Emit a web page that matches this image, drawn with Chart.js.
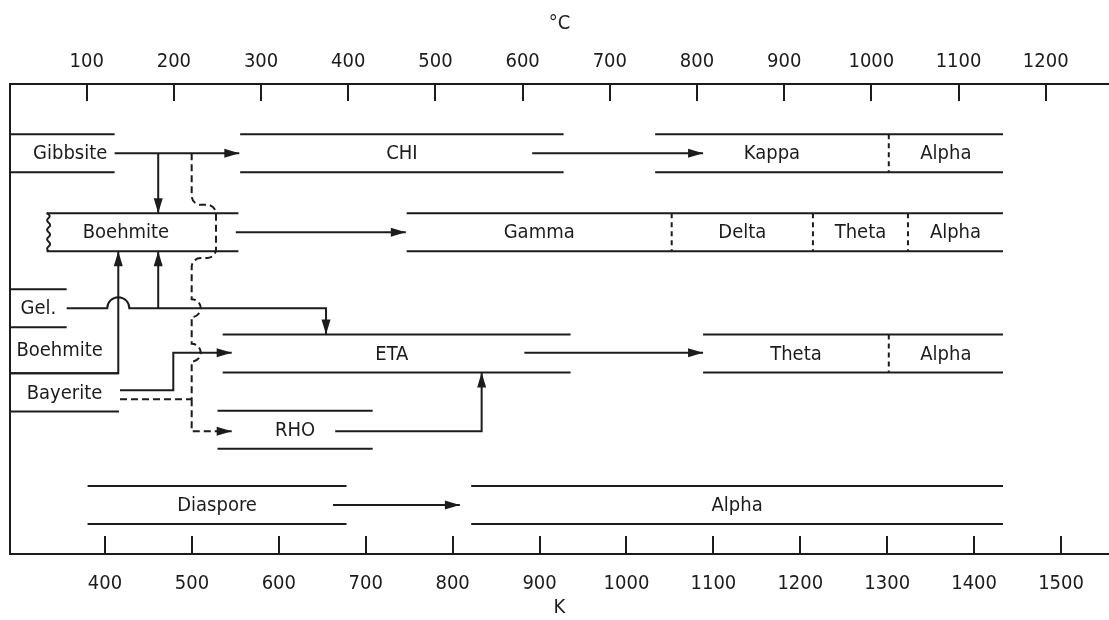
<!DOCTYPE html>
<html>
<head>
<meta charset="utf-8">
<script src="https://cdn.jsdelivr.net/npm/chart.js@4.4.1/dist/chart.umd.min.js"></script>
<style>
  html, body { margin: 0; padding: 0; background: #fff; }
  #wrap { width: 1109px; height: 620px; }
</style>
</head>
<body>
<div id="wrap"><canvas id="chart"></canvas></div>
<script>
// Tick labels of the two temperature axes
const celsiusTicks = [100, 200, 300, 400, 500, 600, 700, 800, 900, 1000, 1100, 1200];
const kelvinTicks = [400, 500, 600, 700, 800, 900, 1000, 1100, 1200, 1300, 1400, 1500];

// Phase bands: names, top / bottom of the band (row units), start / end in degrees C
const bandNames   = [['Gibbsite'], ['CHI'], ['Kappa', 'Alpha'], ['Boehmite'], ['Gamma', 'Delta', 'Theta', 'Alpha'],
                     ['Gel.'], ['Boehmite'], ['Bayerite'], ['ETA'], ['Theta', 'Alpha'], ['RHO'], ['Diaspore'], ['Alpha']];
const bandTop     = [1.32, 1.32, 1.32, 3.4, 3.4, 5.4, 6.4, 7.61, 6.59, 6.59, 8.6, 10.58, 10.58];
const bandBottom  = [2.32, 2.32, 2.32, 4.4, 4.4, 6.4, 7.61, 8.62, 7.59, 7.59, 9.6, 11.58, 11.58];
const bandStart   = [12, 276, 752, 54, 467, 12, 12, 12, 256, 807, 250, 101, 541];
const bandEnd     = [132, 647, 1151, 274, 1151, 77, 77, 137, 655, 1151, 428, 398, 1151];
const bandSplits  = [[], [], [1020], [], [771, 933, 1042], [], [], [], [], [1020], [], [], []];
const bandLabelAt = [81, null, null, 145, null, null, 69, null, 450, null, null, null, null];
const wavyBands   = [3]; // band drawn with a broken (wavy) left end

// Transformation arrows: polylines in (degrees C, row), arrow head at the last point
const arrowPaths = [
  [[132, 1.82], [275, 1.82]],                                   // Gibbsite -> CHI
  [[182, 1.82], [182, 3.4]],                                    // Gibbsite -> Boehmite
  [[611, 1.82], [807, 1.82]],                                   // CHI -> Kappa
  [[271, 3.9], [466, 3.9]],                                     // Boehmite -> Gamma
  [[77, 5.9], [374.5, 5.9], [374.5, 6.59]],                     // Gel -> ETA
  [[182, 5.9], [182, 4.4]],                                     // Gel -> Boehmite
  [[12, 7.61], [136.2, 7.61], [136.2, 4.4]],                    // Boehmite -> Boehmite
  [[138.2, 8.06], [199.3, 8.06], [199.3, 7.07], [266.3, 7.07]], // Bayerite -> ETA
  [[602, 7.07], [807, 7.07]],                                   // ETA -> Theta
  [[385, 9.14], [553, 9.14], [553, 7.59]],                      // RHO -> ETA
  [[382.5, 11.08], [528, 11.08]]                                // Diaspore -> Alpha
];
const arrowHops = [[], [], [], [], [136.2], [], [], [], [], [], []];

// Dashed routes (Gibbsite / Bayerite -> RHO)
const dashedPaths = [
  [[220.4, 1.82], [220.4, 3.18], [248.3, 3.18], [248.3, 4.58], [220.4, 4.58], [220.4, 8.3]],
  [[220.4, 8.3], [220.4, 9.14], [266.3, 9.14]],
  [[138.2, 8.3], [220.4, 8.3]]
];
const dashedHops  = [[5.9, 7.07], [], []];
const dashedRound = [true, false, false];
const dashedArrow = [false, true, false];

const ink = '#1c1c1c';
const fontFamily = "'DejaVu Sans Condensed', 'DejaVu Sans', sans-serif";
Chart.defaults.font.family = fontFamily;
Chart.defaults.font.size = 20;
Chart.defaults.color = ink;

// band edges (top and bottom lines) and dashed dividers
const edgePoints = [];
const dividerPoints = [];
bandNames.forEach((names, i) => {
  edgePoints.push({ x: bandStart[i], y: bandTop[i] }, { x: bandEnd[i], y: bandTop[i] }, { x: bandEnd[i], y: null });
  edgePoints.push({ x: bandStart[i], y: bandBottom[i] }, { x: bandEnd[i], y: bandBottom[i] }, { x: bandEnd[i], y: null });
  bandSplits[i].forEach(s => {
    dividerPoints.push({ x: s, y: bandTop[i] }, { x: s, y: bandBottom[i] }, { x: s, y: null });
  });
});

function px(chart, p) {
  return [chart.scales.x.getPixelForValue(p[0]), chart.scales.y.getPixelForValue(p[1])];
}

// draws a polyline with optional rounded corners and hops over crossing lines
function drawPath(ctx, chart, path, hops, round) {
  const pts = path.map(p => px(chart, p));
  const r = 9;
  ctx.beginPath();
  ctx.moveTo(pts[0][0], pts[0][1]);
  for (let i = 0; i < pts.length - 1; i++) {
    const a = pts[i], b = pts[i + 1];
    const horizontal = Math.abs(a[1] - b[1]) < 0.5;
    hops.forEach(h => {
      if (horizontal) {
        const hx = chart.scales.x.getPixelForValue(h);
        if (hx > Math.min(a[0], b[0]) && hx < Math.max(a[0], b[0])) {
          ctx.lineTo(hx - 11, a[1]);
          ctx.arc(hx, a[1], 11, Math.PI, 2 * Math.PI, false);
        }
      } else {
        const hy = chart.scales.y.getPixelForValue(h);
        if (hy > Math.min(a[1], b[1]) && hy < Math.max(a[1], b[1])) {
          ctx.lineTo(a[0], hy - 9);
          ctx.arc(a[0], hy, 9, -Math.PI / 2, Math.PI / 2, false);
        }
      }
    });
    if (round && i + 2 < pts.length) {
      ctx.arcTo(b[0], b[1], pts[i + 2][0], pts[i + 2][1], r);
    } else {
      ctx.lineTo(b[0], b[1]);
    }
  }
  ctx.stroke();
}

function drawHead(ctx, chart, path) {
  const p = px(chart, path[path.length - 1]);
  const q = px(chart, path[path.length - 2]);
  const len = Math.hypot(p[0] - q[0], p[1] - q[1]);
  const dx = (p[0] - q[0]) / len, dy = (p[1] - q[1]) / len;
  const bx = p[0] - dx * 15, by = p[1] - dy * 15;
  ctx.beginPath();
  ctx.moveTo(p[0], p[1]);
  ctx.lineTo(bx - dy * 4.5, by + dx * 4.5);
  ctx.lineTo(bx + dy * 4.5, by - dx * 4.5);
  ctx.closePath();
  ctx.fill();
}

const diagramPlugin = {
  id: 'diagram',
  afterDatasetsDraw(chart) {
    const ctx = chart.ctx;
    const area = chart.chartArea;
    const xs = chart.scales.x, ks = chart.scales.k, ys = chart.scales.y;
    ctx.save();
    ctx.strokeStyle = ink;
    ctx.fillStyle = ink;
    ctx.lineWidth = 2;

    // left frame line and inward tick marks
    ctx.beginPath();
    ctx.moveTo(area.left, area.top - 1);
    ctx.lineTo(area.left, area.bottom + 1);
    celsiusTicks.forEach(v => {
      const x = Math.round(xs.getPixelForValue(v));
      ctx.moveTo(x, area.top);
      ctx.lineTo(x, area.top + 17);
    });
    kelvinTicks.forEach(v => {
      const x = Math.round(ks.getPixelForValue(v));
      ctx.moveTo(x, area.bottom);
      ctx.lineTo(x, area.bottom - 18);
    });
    ctx.stroke();

    // wavy broken end
    wavyBands.forEach(i => {
      const x0 = xs.getPixelForValue(bandStart[i]);
      const y0 = ys.getPixelForValue(bandTop[i]);
      const y1 = ys.getPixelForValue(bandBottom[i]);
      const n = 8, step = (y1 - y0) / n;
      ctx.beginPath();
      ctx.moveTo(x0, y0);
      for (let k = 0; k < n; k++) {
        const cx = x0 + (k % 2 === 0 ? 5 : -1);
        ctx.quadraticCurveTo(cx, y0 + step * (k + 0.5), x0 + 2, y0 + step * (k + 1));
      }
      ctx.stroke();
    });

    // solid arrows
    arrowPaths.forEach((path, i) => {
      drawPath(ctx, chart, path, arrowHops[i], false);
      drawHead(ctx, chart, path);
    });

    // dashed routes
    dashedPaths.forEach((path, i) => {
      ctx.setLineDash([7, 4]);
      drawPath(ctx, chart, path, dashedHops[i], dashedRound[i]);
      ctx.setLineDash([]);
      if (dashedArrow[i]) drawHead(ctx, chart, path);
    });

    // band labels
    ctx.font = '20px ' + fontFamily;
    ctx.textAlign = 'center';
    ctx.textBaseline = 'middle';
    bandNames.forEach((names, i) => {
      const edges = [bandStart[i], ...bandSplits[i], bandEnd[i]];
      const yc = ys.getPixelForValue((bandTop[i] + bandBottom[i]) / 2);
      names.forEach((name, j) => {
        const at = (names.length === 1 && bandLabelAt[i] !== null) ? bandLabelAt[i] : (edges[j] + edges[j + 1]) / 2;
        ctx.fillText(name, xs.getPixelForValue(at), yc + 1);
      });
    });
    ctx.restore();
  }
};

new Chart(document.getElementById('chart'), {
  type: 'line',
  data: {
    datasets: [
      { data: edgePoints, borderColor: ink, borderWidth: 2, pointRadius: 0, spanGaps: false, xAxisID: 'x', yAxisID: 'y' },
      { data: dividerPoints, borderColor: ink, borderWidth: 2, borderDash: [5, 4], pointRadius: 0, spanGaps: false, xAxisID: 'x', yAxisID: 'y' }
    ]
  },
  options: {
    responsive: true,
    maintainAspectRatio: false,
    animation: false,
    events: [],
    layout: { padding: { left: 10, right: 0, top: 0, bottom: 0 } },
    plugins: { legend: { display: false }, tooltip: { enabled: false } },
    scales: {
      x: {
        type: 'linear', position: 'top', min: 12.0, max: 1272.6,
        afterBuildTicks: s => { s.ticks = celsiusTicks.map(v => ({ value: v })); },
        afterFit: s => { s.height = 84; },
        grid: { display: false, drawTicks: false },
        border: { display: true, color: ink, width: 2 },
        ticks: { color: ink, padding: 10, maxRotation: 0, autoSkip: false, callback: v => String(v) },
        title: { display: true, text: '°C', color: ink, padding: { top: 12, bottom: 0 } }
      },
      k: {
        type: 'linear', position: 'bottom', min: 290.7, max: 1555.2,
        afterBuildTicks: s => { s.ticks = kelvinTicks.map(v => ({ value: v })); },
        afterFit: s => { s.height = 66; },
        grid: { display: false, drawTicks: false },
        border: { display: true, color: ink, width: 2 },
        ticks: { color: ink, padding: 18, maxRotation: 0, autoSkip: false, callback: v => String(v) },
        title: { display: true, text: 'K', color: ink, padding: { top: 0, bottom: 0 } }
      },
      y: { type: 'linear', display: false, min: 0, max: 12.37, reverse: true }
    }
  },
  plugins: [diagramPlugin]
});
</script>
</body>
</html>
